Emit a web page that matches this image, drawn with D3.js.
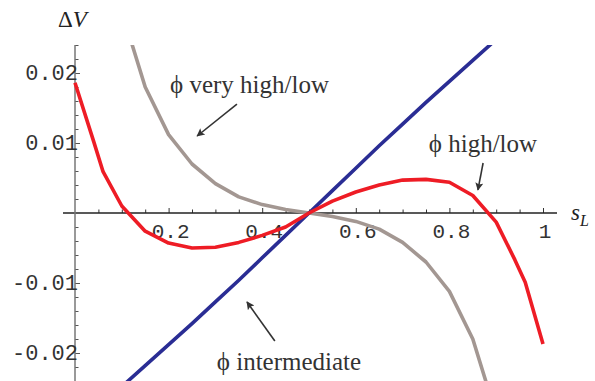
<!DOCTYPE html>
<html>
<head>
<meta charset="utf-8">
<script src="https://cdnjs.cloudflare.com/ajax/libs/d3/7.8.5/d3.min.js"></script>
<style>
  body { margin: 0; background: #fff; }
</style>
</head>
<body>
<script>
// values
var sBlue  = [0.10, 0.15, 0.20, 0.25, 0.30, 0.35, 0.40, 0.45, 0.50, 0.55, 0.60, 0.65, 0.70, 0.75, 0.80, 0.85, 0.90];
var vBlue  = [-0.0248, -0.0218, -0.0188, -0.0158, -0.0127, -0.0096, -0.0064, -0.0032, 0,
              0.0032, 0.0064, 0.0096, 0.0127, 0.0158, 0.0188, 0.0218, 0.0248];

var sRed   = [0, 0.04, 0.06, 0.10, 0.15, 0.20, 0.25, 0.30, 0.35, 0.40, 0.45, 0.50,
              0.55, 0.60, 0.65, 0.70, 0.75, 0.80, 0.85, 0.90, 0.94, 0.962, 1.0];
var vRed   = [0.0186, 0.0102, 0.0059, 0.0010, -0.0026, -0.0043, -0.0050, -0.0049, -0.0042, -0.0032, -0.0020, 0,
              0.0017, 0.0030, 0.0040, 0.0047, 0.0048, 0.0044, 0.0025, -0.0013, -0.0067, -0.0099, -0.0187];

var sGrey  = [0.12, 0.15, 0.20, 0.25, 0.30, 0.35, 0.40, 0.45, 0.50, 0.55, 0.60, 0.65, 0.70, 0.75, 0.80, 0.85, 0.88];
var vGrey  = [0.0245, 0.0180, 0.0112, 0.0070, 0.0042, 0.0023, 0.0012, 0.0005, 0,
              -0.0005, -0.0012, -0.0023, -0.0042, -0.0070, -0.0112, -0.0180, -0.0245];

var xTicks = [0.2, 0.4, 0.6, 0.8, 1];
var xTickLabels = ["0.2", "0.4", "0.6", "0.8", "1"];
var yTicks = [0.02, 0.01, -0.01, -0.02];
var yTickLabels = ["0.02", "0.01", "-0.01", "-0.02"];

var W = 595, H = 381;
var x = d3.scaleLinear().domain([0, 1]).range([75, 543]);
var y = d3.scaleLinear().domain([-0.024, 0.024]).range([381, 45]);

var svg = d3.select("body").append("svg")
  .attr("width", W).attr("height", H);

svg.append("defs").append("clipPath").attr("id", "plot")
  .append("rect").attr("x", 0).attr("y", 45).attr("width", W).attr("height", 336);

svg.select("defs").append("marker")
  .attr("id", "head").attr("viewBox", "0 0 10 10")
  .attr("refX", 9).attr("refY", 5)
  .attr("markerWidth", 12).attr("markerHeight", 8)
  .attr("markerUnits", "userSpaceOnUse")
  .attr("orient", "auto")
  .append("path").attr("d", "M0,0 L10,5 L0,10 L2,5 Z").attr("fill", "#333");

// x axis
var xAxis = d3.axisBottom(x)
  .tickValues(d3.range(1, 21).map(function(i) { return i * 0.05; }))
  .tickSizeInner(0).tickSizeOuter(0).tickFormat("");
var gx = svg.append("g").attr("transform", "translate(0," + y(0) + ")").call(xAxis);
gx.select(".domain").remove();
gx.append("line").attr("x1", 63).attr("x2", 557).attr("stroke", "#222").attr("stroke-width", 1.3);
gx.selectAll(".tick line")
  .attr("y2", function(d) { return Math.abs(d * 5 - Math.round(d * 5)) < 1e-6 ? -5 : -3.5; })
  .attr("stroke", "#333");

svg.selectAll(".xlab").data(xTicks).enter().append("text")
  .attr("class", "xlab")
  .attr("x", function(d) { return x(d) + 2; })
  .attr("y", 238)
  .attr("text-anchor", "middle")
  .attr("font-family", "Liberation Mono, monospace")
  .attr("font-size", 21)
  .attr("fill", "#333")
  .text(function(d, i) { return xTickLabels[i]; });

// y axis
var yMinor = d3.range(-12, 13).map(function(i) { return i * 0.002; }).filter(function(d) { return Math.abs(d) > 1e-9; });
var yAxis = d3.axisRight(y).tickValues(yMinor).tickSizeInner(0).tickSizeOuter(0).tickFormat("");
var gy = svg.append("g").attr("transform", "translate(" + x(0) + ",0)").call(yAxis);
gy.select(".domain").remove();
gy.append("line").attr("y1", 45).attr("y2", 381).attr("stroke", "#777").attr("stroke-width", 1.5);
gy.selectAll(".tick line")
  .attr("x2", function(d) { return Math.abs(d * 100 - Math.round(d * 100)) < 1e-6 ? 5 : 3.5; })
  .attr("stroke", "#555");

svg.selectAll(".ylab").data(yTicks).enter().append("text")
  .attr("class", "ylab")
  .attr("x", 78)
  .attr("y", function(d) { return y(d) + 7; })
  .attr("text-anchor", "end")
  .attr("font-family", "Liberation Mono, monospace")
  .attr("font-size", 22)
  .attr("fill", "#333")
  .text(function(d, i) { return yTickLabels[i]; });

// axis titles
var dv = svg.append("text").attr("x", 58).attr("y", 27)
  .attr("font-family", "Liberation Serif, serif").attr("font-size", 23).attr("fill", "#222");
dv.append("tspan").text("Δ");
dv.append("tspan").attr("font-style", "italic").text("V");

var sl = svg.append("text").attr("x", 571).attr("y", 220)
  .attr("font-family", "Liberation Serif, serif").attr("font-size", 23).attr("fill", "#222")
  .attr("font-style", "italic");
sl.append("tspan").text("s");
sl.append("tspan").attr("font-size", 16).attr("dy", 6).text("L");

// curves
var line = d3.line()
  .x(function(d) { return x(d[0]); })
  .y(function(d) { return y(d[1]); });

var curves = [
  { s: sGrey, v: vGrey, color: "#a39792" },
  { s: sBlue, v: vBlue, color: "#2a2d94" },
  { s: sRed,  v: vRed,  color: "#ee1c25" }
];

svg.append("g").attr("clip-path", "url(#plot)")
  .selectAll("path").data(curves).enter().append("path")
  .attr("d", function(c) { return line(d3.zip(c.s, c.v)); })
  .attr("fill", "none")
  .attr("stroke", function(c) { return c.color; })
  .attr("stroke-width", 3.6)
  .attr("stroke-linejoin", "round");

// annotations (data coordinates)
var notes = [
  { text: "ϕ very high/low", s: 0.203, v: 0.01714, a: [0.346, 0.01557, 0.261, 0.0110] },
  { text: "ϕ high/low",      s: 0.756, v: 0.00871, a: [0.872, 0.00714, 0.861, 0.00329] },
  { text: "ϕ intermediate",  s: 0.303, v: -0.02243, a: [0.427, -0.01829, 0.3675, -0.01271] }
];

svg.selectAll(".note").data(notes).enter().append("text")
  .attr("class", "note")
  .attr("x", function(d) { return x(d.s); })
  .attr("y", function(d) { return y(d.v); })
  .attr("font-family", "Liberation Serif, serif")
  .attr("font-size", 25)
  .attr("fill", "#333")
  .text(function(d) { return d.text; });

svg.selectAll(".arrow").data(notes).enter().append("line")
  .attr("class", "arrow")
  .attr("x1", function(d) { return x(d.a[0]); })
  .attr("y1", function(d) { return y(d.a[1]); })
  .attr("x2", function(d) { return x(d.a[2]); })
  .attr("y2", function(d) { return y(d.a[3]); })
  .attr("stroke", "#333")
  .attr("stroke-width", 1.6)
  .attr("marker-end", "url(#head)");
</script>
</body>
</html>
